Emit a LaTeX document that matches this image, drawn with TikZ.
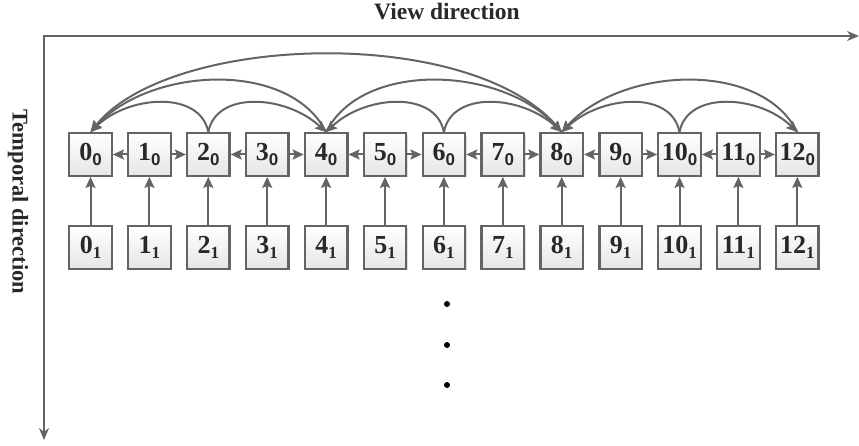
\documentclass[tikz,border=0pt]{standalone}
\usepackage{fontspec}
\setmainfont{Liberation Serif}
\setsansfont{Liberation Sans}
\usetikzlibrary{arrows.meta,shadows}
\definecolor{lc}{RGB}{100,100,100}
\definecolor{tc}{RGB}{40,40,40}
\newcommand{\mysub}[1]{\raisebox{-0.2em}{\fontsize{17}{18}\selectfont #1}}
\begin{document}
\begin{tikzpicture}[x=1pt,y=-1pt,
  box/.style={draw=lc, line width=2.3pt, minimum size=42.5pt, inner sep=0pt,
    top color=white, bottom color=gray!20,
    drop shadow={shadow xshift=1.5pt, shadow yshift=-1.5pt, fill=gray!45, opacity=0.6},
    font=\fontsize{26}{28}\selectfont\bfseries, text=tc},
  arr/.style={draw=lc, line width=2pt, -{Stealth[length=11pt,width=10pt,inset=2pt]}},
  axis/.style={draw=lc, line width=2.2pt, {Stealth[length=12pt,width=10pt]}-{Stealth[length=12pt,width=10pt]}},
  lbl/.style={font=\fontsize{23.5}{26}\selectfont\bfseries, text=tc},
  dotn/.style={circle, fill=black, inner sep=0pt, minimum size=6pt}]
\useasboundingbox (0,0) rectangle (859,446);

% axes
\coordinate (ye) at (44,440);
\coordinate (xe) at (859,36);
\draw[axis] (ye) |- (xe);
\node[lbl] (vl) at (447,12) {View direction};
\node[lbl, font=\fontsize{22.5}{26}\selectfont\bfseries, rotate=-90] (tl) at (18,202) {Temporal direction};

% boxes
\foreach \i in {0,...,12} {
  \node[box] (t\i) at ({90.5+58.9*\i},154.5) {\i\mysub{\sffamily 0}};
  \node[box] (b\i) at ({90.5+58.9*\i},247.5) {\i\mysub{1}};
  \draw[arr] (b\i.north) -- (t\i.south);
}

% neighbour arrows
\foreach \i in {1,3,...,11} {
  \pgfmathtruncatemacro\l{\i-1}
  \pgfmathtruncatemacro\r{\i+1}
  \draw[arr] (t\i.west) -- (t\l.east);
  \draw[arr] (t\i.east) -- (t\r.west);
}

% arcs
\draw[arr] (t2.north) .. controls +(-8,-42) and +(38,-37) .. (t0.north);
\draw[arr] (t2.north) .. controls +(8,-42) and +(-40,-37) .. (t4.north);
\draw[arr] (t6.north) .. controls +(-8,-42) and +(39,-37) .. (t4.north);
\draw[arr] (t6.north) .. controls +(8,-42) and +(-40,-37) .. (t8.north);
\draw[arr] (t10.north) .. controls +(-8,-42) and +(40,-37) .. (t8.north);
\draw[arr] (t10.north) .. controls +(8,-42) and +(-38,-37) .. (t12.north);
\draw[arr] (t4.north) .. controls +(-36,-72) and +(60,-66) .. (t0.north);
\draw[arr] (t4.north) .. controls +(36,-72) and +(-60,-66) .. (t8.north);
\draw[arr] (t12.north) .. controls +(-36,-72) and +(60,-66) .. (t8.north);
\draw[arr] (t8.north) .. controls +(-82,-108) and +(80,-100) .. (t0.north);

% dots
\node[dotn] (d1) at (447,304) {};
\node[dotn] (d2) at (447,345) {};
\node[dotn] (d3) at (447,385) {};
\end{tikzpicture}
\end{document}
